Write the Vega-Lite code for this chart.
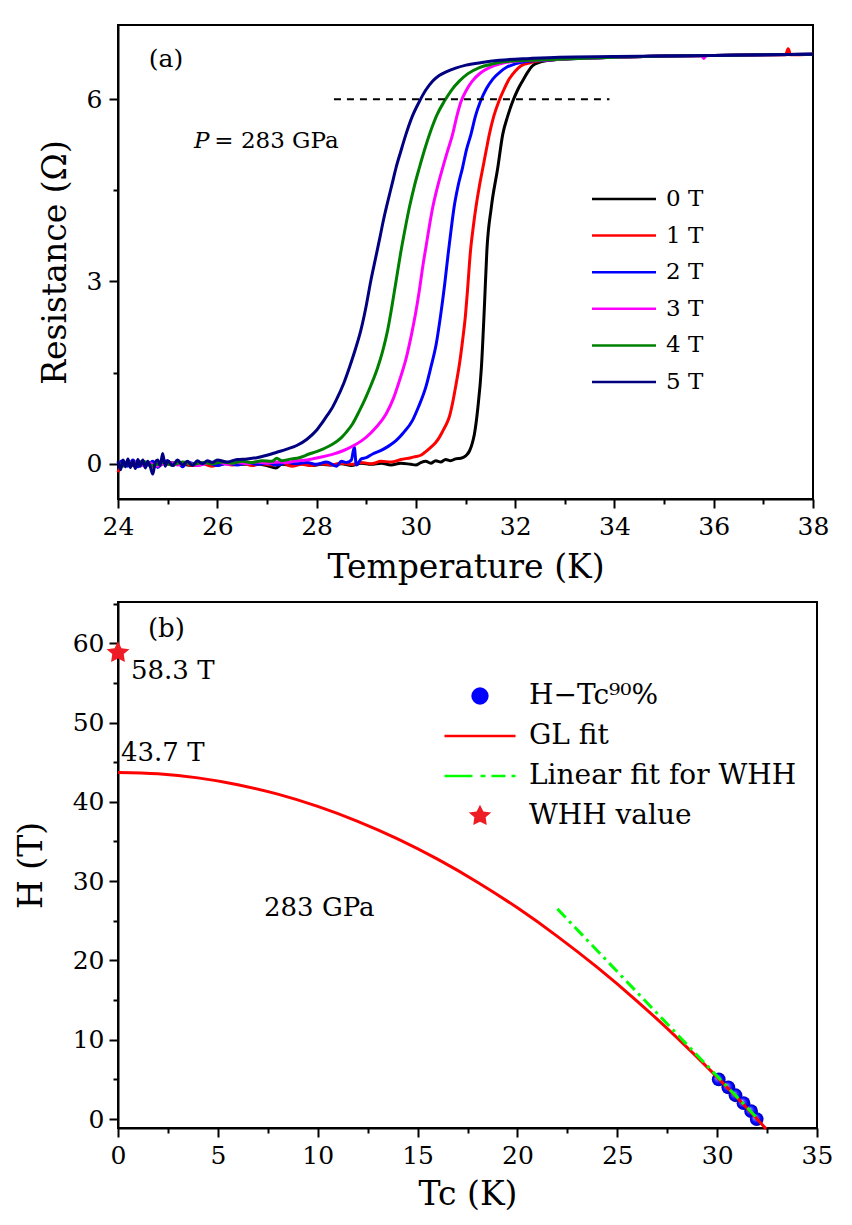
{
  "$schema": "https://vega.github.io/schema/vega-lite/v6.json",
  "background": "white",
  "padding": {"left": 14, "top": 24, "right": 10, "bottom": 5},
  "bounds": "flush",
  "spacing": 103,
  "config": {
    "font": "DejaVu Serif",
    "view": {"stroke": "black", "strokeWidth": 2},
    "axis": {"domainColor": "black", "domainWidth": 2, "tickColor": "black", "tickWidth": 2, "labelColor": "black", "labelFont": "DejaVu Serif", "labelFontSize": 25, "titleFont": "DejaVu Serif", "titleFontWeight": "normal", "titleColor": "black", "grid": false, "labelPadding": 6, "labelFlush": false, "labelOverlap": false},
    "legend": {"labelFont": "DejaVu Serif", "labelColor": "black", "labelLimit": 0},
    "text": {"font": "DejaVu Serif", "color": "black"}
  },
  "datasets": {
    "rt": [
      {"f":"0 T","t":24.0,"r":0.02},{"f":"0 T","t":24.25,"r":-0.03},{"f":"0 T","t":24.5,"r":0.01},{"f":"0 T","t":24.75,"r":-0.04},{"f":"0 T","t":25.0,"r":0.02},{"f":"0 T","t":25.25,"r":0.0},{"f":"0 T","t":25.5,"r":-0.03},{"f":"0 T","t":25.75,"r":0.01},{"f":"0 T","t":26.0,"r":-0.02},{"f":"0 T","t":26.25,"r":0.02},{"f":"0 T","t":26.5,"r":-0.01},{"f":"0 T","t":26.75,"r":0.0},{"f":"0 T","t":27.0,"r":-0.03},{"f":"0 T","t":27.18,"r":-0.07},{"f":"0 T","t":27.3,"r":-0.01},{"f":"0 T","t":27.5,"r":-0.02},{"f":"0 T","t":27.7,"r":0.0},{"f":"0 T","t":27.9,"r":-0.03},{"f":"0 T","t":28.1,"r":-0.01},{"f":"0 T","t":28.3,"r":-0.02},{"f":"0 T","t":28.5,"r":0.0},{"f":"0 T","t":28.7,"r":-0.03},{"f":"0 T","t":28.9,"r":0.01},{"f":"0 T","t":29.1,"r":-0.01},{"f":"0 T","t":29.3,"r":0.01},{"f":"0 T","t":29.5,"r":-0.02},{"f":"0 T","t":29.7,"r":0.01},{"f":"0 T","t":29.9,"r":-0.01},{"f":"0 T","t":30.0,"r":-0.02},{"f":"0 T","t":30.1,"r":0.02},{"f":"0 T","t":30.2,"r":0.04},{"f":"0 T","t":30.3,"r":0.01},{"f":"0 T","t":30.4,"r":0.05},{"f":"0 T","t":30.5,"r":0.03},{"f":"0 T","t":30.6,"r":0.07},{"f":"0 T","t":30.7,"r":0.05},{"f":"0 T","t":30.8,"r":0.08},{"f":"0 T","t":30.9,"r":0.09},{"f":"0 T","t":30.97,"r":0.11},{"f":"0 T","t":31.03,"r":0.15},{"f":"0 T","t":31.08,"r":0.21},{"f":"0 T","t":31.13,"r":0.32},{"f":"0 T","t":31.18,"r":0.49},{"f":"0 T","t":31.25,"r":0.93},{"f":"0 T","t":31.32,"r":1.58},{"f":"0 T","t":31.38,"r":2.57},{"f":"0 T","t":31.43,"r":3.5},{"f":"0 T","t":31.52,"r":4.22},{"f":"0 T","t":31.65,"r":4.87},{"f":"0 T","t":31.75,"r":5.42},{"f":"0 T","t":31.85,"r":5.72},{"f":"0 T","t":31.95,"r":5.96},{"f":"0 T","t":32.05,"r":6.15},{"f":"0 T","t":32.15,"r":6.3},{"f":"0 T","t":32.25,"r":6.44},{"f":"0 T","t":32.35,"r":6.55},{"f":"0 T","t":32.5,"r":6.61},{"f":"0 T","t":32.62,"r":6.63},{"f":"0 T","t":33.0,"r":6.66},{"f":"0 T","t":33.5,"r":6.68},{"f":"0 T","t":34.0,"r":6.69},{"f":"0 T","t":35.0,"r":6.71},{"f":"0 T","t":36.0,"r":6.72},{"f":"0 T","t":37.0,"r":6.73},{"f":"0 T","t":38.0,"r":6.74},

      {"f":"1 T","t":24.0,"r":-0.14},{"f":"1 T","t":24.1,"r":0.0},{"f":"1 T","t":24.3,"r":-0.03},{"f":"1 T","t":24.5,"r":0.02},{"f":"1 T","t":24.7,"r":-0.04},{"f":"1 T","t":24.9,"r":0.01},{"f":"1 T","t":25.1,"r":-0.02},{"f":"1 T","t":25.3,"r":0.02},{"f":"1 T","t":25.5,"r":-0.03},{"f":"1 T","t":25.7,"r":0.0},{"f":"1 T","t":25.9,"r":-0.04},{"f":"1 T","t":26.1,"r":0.01},{"f":"1 T","t":26.3,"r":-0.02},{"f":"1 T","t":26.5,"r":0.02},{"f":"1 T","t":26.7,"r":-0.03},{"f":"1 T","t":26.9,"r":0.0},{"f":"1 T","t":27.1,"r":-0.02},{"f":"1 T","t":27.3,"r":0.01},{"f":"1 T","t":27.5,"r":-0.04},{"f":"1 T","t":27.7,"r":-0.01},{"f":"1 T","t":27.9,"r":-0.03},{"f":"1 T","t":28.1,"r":0.0},{"f":"1 T","t":28.3,"r":-0.02},{"f":"1 T","t":28.5,"r":0.01},{"f":"1 T","t":28.7,"r":-0.01},{"f":"1 T","t":28.9,"r":0.02},{"f":"1 T","t":29.1,"r":0.0},{"f":"1 T","t":29.3,"r":0.04},{"f":"1 T","t":29.5,"r":0.03},{"f":"1 T","t":29.7,"r":0.07},{"f":"1 T","t":29.9,"r":0.1},{"f":"1 T","t":30.0,"r":0.12},{"f":"1 T","t":30.1,"r":0.14},{"f":"1 T","t":30.2,"r":0.2},{"f":"1 T","t":30.3,"r":0.27},{"f":"1 T","t":30.4,"r":0.35},{"f":"1 T","t":30.47,"r":0.43},{"f":"1 T","t":30.55,"r":0.55},{"f":"1 T","t":30.62,"r":0.66},{"f":"1 T","t":30.67,"r":0.76},{"f":"1 T","t":30.74,"r":1.0},{"f":"1 T","t":30.81,"r":1.31},{"f":"1 T","t":30.88,"r":1.65},{"f":"1 T","t":30.94,"r":2.02},{"f":"1 T","t":31.0,"r":2.45},{"f":"1 T","t":31.04,"r":2.85},{"f":"1 T","t":31.1,"r":3.5},{"f":"1 T","t":31.16,"r":3.92},{"f":"1 T","t":31.21,"r":4.22},{"f":"1 T","t":31.28,"r":4.57},{"f":"1 T","t":31.35,"r":4.87},{"f":"1 T","t":31.42,"r":5.17},{"f":"1 T","t":31.48,"r":5.42},{"f":"1 T","t":31.57,"r":5.72},{"f":"1 T","t":31.67,"r":5.96},{"f":"1 T","t":31.78,"r":6.17},{"f":"1 T","t":31.88,"r":6.33},{"f":"1 T","t":32.0,"r":6.46},{"f":"1 T","t":32.12,"r":6.55},{"f":"1 T","t":32.3,"r":6.6},{"f":"1 T","t":32.49,"r":6.63},{"f":"1 T","t":33.0,"r":6.66},{"f":"1 T","t":33.5,"r":6.68},{"f":"1 T","t":34.0,"r":6.69},{"f":"1 T","t":35.0,"r":6.71},{"f":"1 T","t":36.0,"r":6.72},{"f":"1 T","t":37.0,"r":6.73},{"f":"1 T","t":37.45,"r":6.73},{"f":"1 T","t":37.5,"r":6.83},{"f":"1 T","t":37.55,"r":6.73},{"f":"1 T","t":38.0,"r":6.74},

      {"f":"2 T","t":24.0,"r":0.0},{"f":"2 T","t":24.1,"r":0.05},{"f":"2 T","t":24.2,"r":-0.04},{"f":"2 T","t":24.3,"r":0.06},{"f":"2 T","t":24.4,"r":-0.05},{"f":"2 T","t":24.5,"r":0.03},{"f":"2 T","t":24.6,"r":-0.02},{"f":"2 T","t":24.7,"r":0.04},{"f":"2 T","t":24.8,"r":-0.06},{"f":"2 T","t":24.9,"r":0.02},{"f":"2 T","t":25.0,"r":0.05},{"f":"2 T","t":25.1,"r":-0.03},{"f":"2 T","t":25.2,"r":0.02},{"f":"2 T","t":25.3,"r":-0.05},{"f":"2 T","t":25.4,"r":0.03},{"f":"2 T","t":25.6,"r":-0.02},{"f":"2 T","t":25.8,"r":0.02},{"f":"2 T","t":26.0,"r":-0.03},{"f":"2 T","t":26.2,"r":0.01},{"f":"2 T","t":26.4,"r":-0.02},{"f":"2 T","t":26.6,"r":0.02},{"f":"2 T","t":26.8,"r":-0.01},{"f":"2 T","t":27.0,"r":0.01},{"f":"2 T","t":27.2,"r":-0.02},{"f":"2 T","t":27.4,"r":0.02},{"f":"2 T","t":27.6,"r":0.0},{"f":"2 T","t":27.8,"r":0.02},{"f":"2 T","t":28.0,"r":-0.01},{"f":"2 T","t":28.2,"r":0.03},{"f":"2 T","t":28.4,"r":-0.04},{"f":"2 T","t":28.5,"r":0.04},{"f":"2 T","t":28.6,"r":0.02},{"f":"2 T","t":28.7,"r":0.06},{"f":"2 T","t":28.76,"r":0.27},{"f":"2 T","t":28.8,"r":-0.02},{"f":"2 T","t":28.9,"r":0.08},{"f":"2 T","t":29.0,"r":0.1},{"f":"2 T","t":29.13,"r":0.16},{"f":"2 T","t":29.3,"r":0.22},{"f":"2 T","t":29.45,"r":0.29},{"f":"2 T","t":29.6,"r":0.38},{"f":"2 T","t":29.75,"r":0.51},{"f":"2 T","t":29.93,"r":0.71},{"f":"2 T","t":30.05,"r":0.93},{"f":"2 T","t":30.2,"r":1.26},{"f":"2 T","t":30.3,"r":1.58},{"f":"2 T","t":30.41,"r":1.97},{"f":"2 T","t":30.5,"r":2.45},{"f":"2 T","t":30.58,"r":2.95},{"f":"2 T","t":30.65,"r":3.45},{"f":"2 T","t":30.71,"r":3.85},{"f":"2 T","t":30.77,"r":4.22},{"f":"2 T","t":30.85,"r":4.57},{"f":"2 T","t":30.94,"r":4.87},{"f":"2 T","t":31.02,"r":5.17},{"f":"2 T","t":31.11,"r":5.42},{"f":"2 T","t":31.2,"r":5.72},{"f":"2 T","t":31.3,"r":5.96},{"f":"2 T","t":31.42,"r":6.17},{"f":"2 T","t":31.55,"r":6.33},{"f":"2 T","t":31.7,"r":6.45},{"f":"2 T","t":31.82,"r":6.52},{"f":"2 T","t":32.0,"r":6.58},{"f":"2 T","t":32.22,"r":6.62},{"f":"2 T","t":32.6,"r":6.64},{"f":"2 T","t":33.0,"r":6.66},{"f":"2 T","t":34.0,"r":6.69},{"f":"2 T","t":35.0,"r":6.71},{"f":"2 T","t":36.0,"r":6.72},{"f":"2 T","t":37.0,"r":6.73},{"f":"2 T","t":38.0,"r":6.74},

      {"f":"3 T","t":24.0,"r":0.03},{"f":"3 T","t":24.1,"r":-0.03},{"f":"3 T","t":24.2,"r":0.04},{"f":"3 T","t":24.3,"r":-0.02},{"f":"3 T","t":24.4,"r":0.05},{"f":"3 T","t":24.5,"r":-0.03},{"f":"3 T","t":24.6,"r":0.02},{"f":"3 T","t":24.8,"r":-0.04},{"f":"3 T","t":25.0,"r":0.03},{"f":"3 T","t":25.2,"r":-0.02},{"f":"3 T","t":25.4,"r":0.02},{"f":"3 T","t":25.6,"r":-0.03},{"f":"3 T","t":25.8,"r":0.01},{"f":"3 T","t":26.0,"r":0.03},{"f":"3 T","t":26.2,"r":-0.01},{"f":"3 T","t":26.4,"r":0.02},{"f":"3 T","t":26.6,"r":0.0},{"f":"3 T","t":26.8,"r":0.03},{"f":"3 T","t":27.0,"r":0.01},{"f":"3 T","t":27.2,"r":0.03},{"f":"3 T","t":27.4,"r":0.02},{"f":"3 T","t":27.6,"r":0.05},{"f":"3 T","t":27.8,"r":0.06},{"f":"3 T","t":27.92,"r":0.08},{"f":"3 T","t":28.1,"r":0.11},{"f":"3 T","t":28.3,"r":0.15},{"f":"3 T","t":28.52,"r":0.21},{"f":"3 T","t":28.75,"r":0.3},{"f":"3 T","t":28.99,"r":0.43},{"f":"3 T","t":29.2,"r":0.6},{"f":"3 T","t":29.4,"r":0.82},{"f":"3 T","t":29.55,"r":1.08},{"f":"3 T","t":29.67,"r":1.37},{"f":"3 T","t":29.8,"r":1.72},{"f":"3 T","t":29.9,"r":2.08},{"f":"3 T","t":30.0,"r":2.5},{"f":"3 T","t":30.07,"r":2.85},{"f":"3 T","t":30.14,"r":3.25},{"f":"3 T","t":30.2,"r":3.55},{"f":"3 T","t":30.27,"r":3.9},{"f":"3 T","t":30.34,"r":4.22},{"f":"3 T","t":30.44,"r":4.57},{"f":"3 T","t":30.54,"r":4.87},{"f":"3 T","t":30.64,"r":5.15},{"f":"3 T","t":30.74,"r":5.42},{"f":"3 T","t":30.82,"r":5.7},{"f":"3 T","t":30.91,"r":5.96},{"f":"3 T","t":31.02,"r":6.15},{"f":"3 T","t":31.14,"r":6.3},{"f":"3 T","t":31.3,"r":6.43},{"f":"3 T","t":31.48,"r":6.52},{"f":"3 T","t":31.7,"r":6.58},{"f":"3 T","t":31.95,"r":6.62},{"f":"3 T","t":32.4,"r":6.64},{"f":"3 T","t":33.0,"r":6.66},{"f":"3 T","t":34.0,"r":6.69},{"f":"3 T","t":35.0,"r":6.71},{"f":"3 T","t":35.75,"r":6.72},{"f":"3 T","t":35.8,"r":6.67},{"f":"3 T","t":35.85,"r":6.72},{"f":"3 T","t":36.0,"r":6.72},{"f":"3 T","t":37.0,"r":6.73},{"f":"3 T","t":38.0,"r":6.74},

      {"f":"4 T","t":24.0,"r":0.02},{"f":"4 T","t":24.1,"r":-0.04},{"f":"4 T","t":24.2,"r":0.03},{"f":"4 T","t":24.3,"r":-0.02},{"f":"4 T","t":24.5,"r":0.04},{"f":"4 T","t":24.7,"r":-0.03},{"f":"4 T","t":24.9,"r":0.02},{"f":"4 T","t":25.1,"r":-0.02},{"f":"4 T","t":25.3,"r":0.03},{"f":"4 T","t":25.5,"r":-0.01},{"f":"4 T","t":25.7,"r":0.02},{"f":"4 T","t":25.9,"r":0.0},{"f":"4 T","t":26.1,"r":0.03},{"f":"4 T","t":26.3,"r":0.01},{"f":"4 T","t":26.5,"r":0.04},{"f":"4 T","t":26.7,"r":0.02},{"f":"4 T","t":26.9,"r":0.05},{"f":"4 T","t":27.1,"r":0.04},{"f":"4 T","t":27.2,"r":0.09},{"f":"4 T","t":27.3,"r":0.05},{"f":"4 T","t":27.5,"r":0.08},{"f":"4 T","t":27.65,"r":0.1},{"f":"4 T","t":27.85,"r":0.16},{"f":"4 T","t":28.0,"r":0.2},{"f":"4 T","t":28.15,"r":0.25},{"f":"4 T","t":28.32,"r":0.32},{"f":"4 T","t":28.5,"r":0.43},{"f":"4 T","t":28.6,"r":0.52},{"f":"4 T","t":28.72,"r":0.65},{"f":"4 T","t":28.85,"r":0.85},{"f":"4 T","t":28.99,"r":1.09},{"f":"4 T","t":29.1,"r":1.3},{"f":"4 T","t":29.23,"r":1.58},{"f":"4 T","t":29.33,"r":1.85},{"f":"4 T","t":29.43,"r":2.19},{"f":"4 T","t":29.52,"r":2.6},{"f":"4 T","t":29.6,"r":3.0},{"f":"4 T","t":29.69,"r":3.45},{"f":"4 T","t":29.78,"r":3.85},{"f":"4 T","t":29.87,"r":4.22},{"f":"4 T","t":29.97,"r":4.57},{"f":"4 T","t":30.07,"r":4.87},{"f":"4 T","t":30.18,"r":5.18},{"f":"4 T","t":30.3,"r":5.48},{"f":"4 T","t":30.43,"r":5.75},{"f":"4 T","t":30.57,"r":5.96},{"f":"4 T","t":30.72,"r":6.15},{"f":"4 T","t":30.88,"r":6.3},{"f":"4 T","t":31.05,"r":6.42},{"f":"4 T","t":31.28,"r":6.52},{"f":"4 T","t":31.55,"r":6.58},{"f":"4 T","t":31.82,"r":6.62},{"f":"4 T","t":32.3,"r":6.64},{"f":"4 T","t":33.0,"r":6.66},{"f":"4 T","t":34.0,"r":6.69},{"f":"4 T","t":35.0,"r":6.71},{"f":"4 T","t":36.0,"r":6.72},{"f":"4 T","t":37.0,"r":6.73},{"f":"4 T","t":38.0,"r":6.74},

      {"f":"5 T","t":24.0,"r":0.04},{"f":"5 T","t":24.05,"r":-0.1},{"f":"5 T","t":24.1,"r":0.06},{"f":"5 T","t":24.15,"r":-0.05},{"f":"5 T","t":24.2,"r":0.08},{"f":"5 T","t":24.25,"r":-0.06},{"f":"5 T","t":24.3,"r":0.05},{"f":"5 T","t":24.35,"r":-0.08},{"f":"5 T","t":24.4,"r":0.07},{"f":"5 T","t":24.45,"r":-0.04},{"f":"5 T","t":24.5,"r":0.06},{"f":"5 T","t":24.55,"r":-0.07},{"f":"5 T","t":24.6,"r":0.04},{"f":"5 T","t":24.65,"r":-0.05},{"f":"5 T","t":24.7,"r":-0.17},{"f":"5 T","t":24.75,"r":0.02},{"f":"5 T","t":24.8,"r":0.06},{"f":"5 T","t":24.85,"r":-0.03},{"f":"5 T","t":24.9,"r":0.17},{"f":"5 T","t":24.95,"r":-0.04},{"f":"5 T","t":25.0,"r":0.05},{"f":"5 T","t":25.1,"r":-0.03},{"f":"5 T","t":25.2,"r":0.06},{"f":"5 T","t":25.3,"r":-0.02},{"f":"5 T","t":25.4,"r":0.04},{"f":"5 T","t":25.5,"r":-0.03},{"f":"5 T","t":25.6,"r":0.05},{"f":"5 T","t":25.7,"r":0.0},{"f":"5 T","t":25.8,"r":0.05},{"f":"5 T","t":25.9,"r":0.02},{"f":"5 T","t":26.0,"r":0.06},{"f":"5 T","t":26.2,"r":0.03},{"f":"5 T","t":26.4,"r":0.07},{"f":"5 T","t":26.6,"r":0.08},{"f":"5 T","t":26.8,"r":0.1},{"f":"5 T","t":27.0,"r":0.14},{"f":"5 T","t":27.2,"r":0.19},{"f":"5 T","t":27.4,"r":0.24},{"f":"5 T","t":27.6,"r":0.3},{"f":"5 T","t":27.8,"r":0.4},{"f":"5 T","t":28.0,"r":0.55},{"f":"5 T","t":28.1,"r":0.66},{"f":"5 T","t":28.2,"r":0.78},{"f":"5 T","t":28.3,"r":0.9},{"f":"5 T","t":28.39,"r":1.04},{"f":"5 T","t":28.55,"r":1.33},{"f":"5 T","t":28.66,"r":1.58},{"f":"5 T","t":28.78,"r":1.88},{"f":"5 T","t":28.89,"r":2.19},{"f":"5 T","t":29.0,"r":2.6},{"f":"5 T","t":29.09,"r":3.0},{"f":"5 T","t":29.18,"r":3.35},{"f":"5 T","t":29.27,"r":3.7},{"f":"5 T","t":29.35,"r":4.02},{"f":"5 T","t":29.43,"r":4.3},{"f":"5 T","t":29.52,"r":4.6},{"f":"5 T","t":29.6,"r":4.87},{"f":"5 T","t":29.7,"r":5.15},{"f":"5 T","t":29.8,"r":5.42},{"f":"5 T","t":29.93,"r":5.72},{"f":"5 T","t":30.07,"r":5.96},{"f":"5 T","t":30.2,"r":6.15},{"f":"5 T","t":30.34,"r":6.3},{"f":"5 T","t":30.47,"r":6.39},{"f":"5 T","t":30.61,"r":6.45},{"f":"5 T","t":30.8,"r":6.51},{"f":"5 T","t":31.01,"r":6.56},{"f":"5 T","t":31.3,"r":6.6},{"f":"5 T","t":31.68,"r":6.64},{"f":"5 T","t":32.3,"r":6.67},{"f":"5 T","t":32.89,"r":6.69},{"f":"5 T","t":34.0,"r":6.7},{"f":"5 T","t":35.0,"r":6.71},{"f":"5 T","t":36.0,"r":6.72},{"f":"5 T","t":37.0,"r":6.73},{"f":"5 T","t":38.0,"r":6.74}
    ],
    "gl": [
      {"t":0,"h":43.7},{"t":2,"h":43.53},{"t":4,"h":43.02},{"t":6,"h":42.16},{"t":8,"h":40.97},{"t":10,"h":39.43},{"t":12,"h":37.55},{"t":14,"h":35.34},{"t":16,"h":32.78},{"t":18,"h":29.87},{"t":20,"h":26.63},{"t":22,"h":23.04},{"t":24,"h":19.12},{"t":26,"h":14.85},{"t":28,"h":10.24},{"t":30,"h":5.29},{"t":31,"h":2.69},{"t":32,"h":0.0},{"t":32.45,"h":-1.24}
    ],
    "lin": [{"t":22.0,"h":26.5},{"t":32.05,"h":0.0}],
    "balls": [
      {"kind":"H−Tc⁹⁰%","t":30.08,"h":5},{"kind":"H−Tc⁹⁰%","t":30.56,"h":4},{"kind":"H−Tc⁹⁰%","t":30.92,"h":3},{"kind":"H−Tc⁹⁰%","t":31.32,"h":2},{"kind":"H−Tc⁹⁰%","t":31.7,"h":1},{"kind":"H−Tc⁹⁰%","t":31.98,"h":0}
    ],
    "star": [{"kind":"WHH value","t":0,"h":58.8}]
  },
  "vconcat": [
    {
      "width": 695,
      "height": 474,
      "data": {"values": [{}]},
      "layer": [
        {
          "data": {"name": "rt"},
          "mark": {"type": "line", "strokeWidth": 3, "interpolate": "monotone"},
          "encoding": {
            "x": {"field": "t", "type": "quantitative", "scale": {"domain": [24, 38], "nice": false, "zero": false},
                  "axis": {"orient": "bottom", "values": [24, 26, 28, 30, 32, 34, 36, 38], "tickSize": 9, "title": "Temperature (K)", "titleFontSize": 33, "titlePadding": 12}},
            "y": {"field": "r", "type": "quantitative", "scale": {"domain": [-0.58, 7.22], "nice": false, "zero": false},
                  "axis": {"orient": "left", "values": [0, 3, 6], "tickSize": 9, "labelPadding": 7, "title": "Resistance (Ω)", "titleFontSize": 33, "titlePadding": 14}},
            "color": {"field": "f", "type": "nominal",
                      "scale": {"domain": ["0 T", "1 T", "2 T", "3 T", "4 T", "5 T"], "range": ["#000000", "#ff0000", "#0000ff", "#ff00ff", "#008000", "#000080"]},
                      "legend": {"title": null, "orient": "none", "legendX": 494.5, "legendY": 162.5, "symbolType": "M-6.4,0H6.4", "symbolSize": 100, "symbolStrokeWidth": 2.5, "labelFontSize": 23, "labelOffset": 30.5, "rowPadding": 12.6, "padding": 0}}
          }
        },
        {
          "mark": {"type": "point", "opacity": 0},
          "encoding": {
            "x": {"datum": 24, "type": "quantitative", "axis": {"orient": "bottom", "values": [25, 27, 29, 31, 33, 35, 37], "tickSize": 5, "labels": false, "domain": false, "title": null}},
            "y": {"datum": 0, "type": "quantitative", "axis": {"orient": "left", "values": [1.5, 4.5], "tickSize": 5, "labels": false, "domain": false, "title": null}}
          }
        },
        {
          "mark": {"type": "rule", "strokeDash": [7, 6], "strokeWidth": 2, "color": "black"},
          "encoding": {
            "x": {"datum": 28.35, "type": "quantitative", "axis": null},
            "x2": {"datum": 33.9},
            "y": {"datum": 6.0, "type": "quantitative", "axis": null}
          }
        },
        {
          "mark": {"type": "text", "text": "(a)", "fontSize": 25, "align": "left", "baseline": "middle"},
          "encoding": {"x": {"datum": 24.62, "type": "quantitative", "axis": null}, "y": {"datum": 6.66, "type": "quantitative", "axis": null}}
        },
        {
          "mark": {"type": "text", "text": "P", "fontStyle": "italic", "fontSize": 23, "align": "left", "baseline": "middle"},
          "encoding": {"x": {"datum": 25.53, "type": "quantitative", "axis": null}, "y": {"datum": 5.31, "type": "quantitative", "axis": null}}
        },
        {
          "mark": {"type": "text", "text": "= 283 GPa", "fontSize": 23, "align": "left", "baseline": "middle"},
          "encoding": {"x": {"datum": 25.94, "type": "quantitative", "axis": null}, "y": {"datum": 5.31, "type": "quantitative", "axis": null}}
        }
      ],
      "resolve": {"axis": {"x": "independent", "y": "independent"}}
    },
    {
      "width": 699,
      "height": 526,
      "data": {"values": [{}]},
      "layer": [
        {
          "data": {"name": "balls"},
          "mark": {"type": "point", "filled": true, "size": 190, "opacity": 1,
                   "color": {"gradient": "radial", "x1": 0.35, "y1": 0.35, "r1": 0, "x2": 0.5, "y2": 0.5, "r2": 0.5,
                             "stops": [{"offset": 0, "color": "#ffffff"}, {"offset": 0.3, "color": "#5a5aff"}, {"offset": 0.7, "color": "#0000ff"}, {"offset": 1, "color": "#0000b0"}]}},
          "encoding": {
            "x": {"field": "t", "type": "quantitative", "scale": {"domain": [0, 35], "nice": false, "zero": false},
                  "axis": {"orient": "bottom", "values": [0, 5, 10, 15, 20, 25, 30, 35], "tickSize": 9, "title": "Tc (K)", "titleFontSize": 33, "titlePadding": 10}},
            "y": {"field": "h", "type": "quantitative", "scale": {"domain": [-1.13, 65.2], "nice": false, "zero": false},
                  "axis": {"orient": "left", "values": [0, 10, 20, 30, 40, 50, 60], "tickSize": 9, "labelPadding": 5, "title": "H (T)", "titleFontSize": 33, "titlePadding": 24}},
            "shape": {"field": "kind", "type": "nominal",
                      "scale": {"domain": ["H−Tc⁹⁰%", "GL fit", "Linear fit for WHH", "WHH value"],
                                "range": ["circle", "M-4.1,-0.14H4.1V0.14H-4.1Z", "M-4.1,-0.14H-0.87V0.14H-4.1ZM0.06,-0.14H0.63V0.14H0.06ZM1.33,-0.14H2.94V0.14H1.33ZM3.64,-0.14H4.1V0.14H3.64Z", "M0,0.65L0.78,1.04L0.65,0.13L1.3,-0.39L0.39,-0.52L0,-1.3L-0.39,-0.52L-1.3,-0.39L-0.65,0.13L-0.78,1.04L0,0.65Z"]},
                      "legend": {"title": null, "orient": "none", "legendX": 348, "legendY": 80, "symbolSize": 300, "symbolStrokeWidth": 0, "labelFontSize": 28, "labelOffset": 35, "labelLimit": 0, "rowPadding": 12, "padding": 0,
                                 "encode": {"symbols": {"update": {"fill": {"signal": "datum.value === 'H−Tc⁹⁰%' ? {gradient: 'radial', x1: 0.35, y1: 0.35, r1: 0, x2: 0.5, y2: 0.5, r2: 0.5, stops: [{offset: 0, color: '#ffffff'}, {offset: 0.3, color: '#5a5aff'}, {offset: 0.7, color: '#0000ff'}, {offset: 1, color: '#0000b0'}]} : datum.value === 'GL fit' ? '#ff0000' : datum.value === 'WHH value' ? '#ee1c24' : '#00ff00'"}, "stroke": {"value": "transparent"}}}}}}
          }
        },
        {
          "data": {"name": "gl"},
          "mark": {"type": "line", "color": "#ff0000", "strokeWidth": 3, "interpolate": "monotone"},
          "encoding": {
            "x": {"field": "t", "type": "quantitative", "axis": null},
            "y": {"field": "h", "type": "quantitative", "axis": null}
          }
        },
        {
          "data": {"name": "lin"},
          "mark": {"type": "line", "color": "#00ff00", "strokeWidth": 3, "strokeDash": [12, 5, 3, 5]},
          "encoding": {
            "x": {"field": "t", "type": "quantitative", "axis": null},
            "y": {"field": "h", "type": "quantitative", "axis": null}
          }
        },
        {
          "data": {"name": "star"},
          "mark": {"type": "point", "filled": true, "size": 313, "opacity": 1},
          "encoding": {
            "x": {"field": "t", "type": "quantitative", "axis": null},
            "y": {"field": "h", "type": "quantitative", "axis": null},
            "color": {"field": "kind", "type": "nominal",
                      "scale": {"domain": ["H−Tc⁹⁰%", "GL fit", "Linear fit for WHH", "WHH value"], "range": ["#0000ff", "#ff0000", "#00ff00", "#ee1c24"]},
                      "legend": {"title": null, "orient": "none", "legendX": 348, "legendY": 80, "symbolSize": 300, "symbolStrokeWidth": 0, "labelFontSize": 28, "labelOffset": 35, "labelLimit": 0, "rowPadding": 12, "padding": 0}},
            "shape": {"field": "kind", "type": "nominal"}
          }
        },
        {
          "mark": {"type": "point", "opacity": 0},
          "encoding": {
            "x": {"datum": 0, "type": "quantitative", "axis": {"orient": "bottom", "values": [2.5, 7.5, 12.5, 17.5, 22.5, 27.5, 32.5], "tickSize": 5, "labels": false, "domain": false, "title": null}},
            "y": {"datum": 0, "type": "quantitative", "axis": {"orient": "left", "values": [5, 15, 25, 35, 45, 55, 65], "tickSize": 5, "labels": false, "domain": false, "title": null}}
          }
        },
        {
          "mark": {"type": "text", "text": "(b)", "fontSize": 26, "align": "left", "baseline": "middle"},
          "encoding": {"x": {"datum": 1.5, "type": "quantitative", "axis": null}, "y": {"datum": 61.8, "type": "quantitative", "axis": null}}
        },
        {
          "mark": {"type": "text", "text": "58.3 T", "fontSize": 26, "align": "left", "baseline": "middle"},
          "encoding": {"x": {"datum": 0.65, "type": "quantitative", "axis": null}, "y": {"datum": 56.5, "type": "quantitative", "axis": null}}
        },
        {
          "mark": {"type": "text", "text": "43.7 T", "fontSize": 26, "align": "left", "baseline": "middle"},
          "encoding": {"x": {"datum": 0.15, "type": "quantitative", "axis": null}, "y": {"datum": 46.1, "type": "quantitative", "axis": null}}
        },
        {
          "mark": {"type": "text", "text": "283 GPa", "fontSize": 26, "align": "left", "baseline": "middle"},
          "encoding": {"x": {"datum": 7.31, "type": "quantitative", "axis": null}, "y": {"datum": 26.6, "type": "quantitative", "axis": null}}
        }
      ],
      "resolve": {"axis": {"x": "independent", "y": "independent"}}
    }
  ],
  "resolve": {"scale": {"color": "independent", "shape": "independent", "x": "independent", "y": "independent"}, "legend": {"color": "independent", "shape": "independent"}}
}
